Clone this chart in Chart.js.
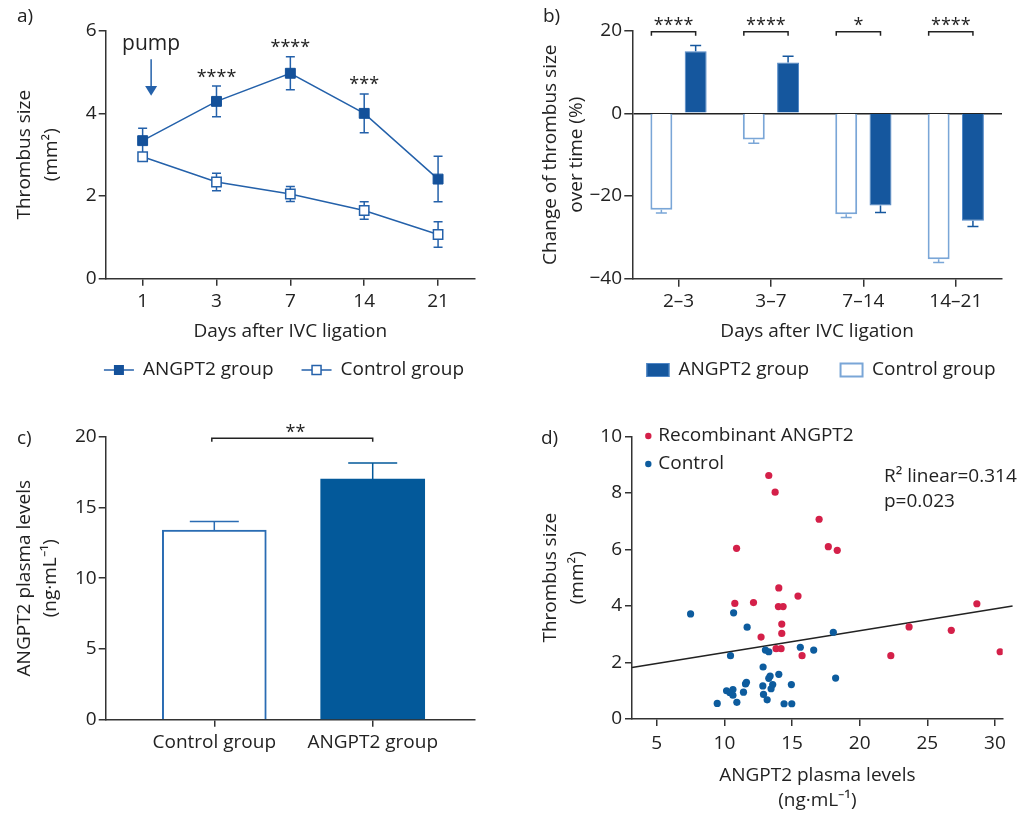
<!DOCTYPE html>
<html>
<head>
<meta charset="utf-8">
<script src="https://cdn.jsdelivr.net/npm/chart.js@4.4.0/dist/chart.umd.min.js"></script>
<style>
  body { margin: 0; background: #fff; }
  #wrap { position: relative; width: 1032px; height: 813px; font-family: 'Open Sans', sans-serif; color: #222; }
  .panel { position: absolute; }
  .tag { position: absolute; font-size: 19px; line-height: 19px; color: #222; }
</style>
</head>
<body>
<div id="wrap">
  <div class="panel" style="left:0;top:0;width:516px;height:400px"><canvas id="chartA"></canvas></div>
  <div class="panel" style="left:516px;top:0;width:516px;height:400px"><canvas id="chartB"></canvas></div>
  <div class="panel" style="left:0;top:410px;width:516px;height:400px"><canvas id="chartC"></canvas></div>
  <div class="panel" style="left:516px;top:410px;width:516px;height:403px"><canvas id="chartD"></canvas></div>
  <div class="tag" style="left:17px;top:6px">a)</div>
  <div class="tag" style="left:543px;top:6px">b)</div>
  <div class="tag" style="left:17px;top:428px">c)</div>
  <div class="tag" style="left:541px;top:428px">d)</div>
</div>
<script>
// a) thrombus size after IVC ligation
const daysA = ['1', '3', '7', '14', '21'];
const angptA = [3.34, 4.29, 4.97, 4.00, 2.41];
const angptAErr = [0.30, 0.37, 0.40, 0.47, 0.55];
const controlA = [2.95, 2.34, 2.05, 1.65, 1.07];
const controlAErr = [0.10, 0.21, 0.18, 0.21, 0.31];
const sigA = ['', '****', '****', '***', ''];

// b) change of thrombus size between time points
const intervalsB = ['2–3', '3–7', '7–14', '14–21'];
const controlB = [-23.3, -6.3, -24.4, -35.3];
const controlBErr = [0.8, 0.9, 0.8, 0.8];
const angptB = [15.0, 12.3, -22.3, -26.0];
const angptBErr = [1.4, 1.5, 1.7, 1.4];
const sigB = ['****', '****', '*', '****'];

// c) plasma levels
const groupsC = ['Control group', 'ANGPT2 group'];
const plasmaC = [13.4, 17.0];
const plasmaCErr = [0.6, 1.15];
const sigC = '**';

// d) thrombus size vs plasma level
const recombX = [13.28, 13.75, 17.0, 10.9, 17.68, 18.34, 14.02, 15.44, 10.77, 12.15, 13.99, 14.34,
  28.66, 14.24, 14.24, 23.65, 12.71, 26.77, 13.82, 14.19, 15.74, 22.3, 30.38];
const recombY = [8.62, 8.03, 7.07, 6.04, 6.10, 5.97, 4.64, 4.35, 4.09, 4.12, 3.98, 3.98,
  4.08, 3.36, 3.03, 3.26, 2.90, 3.14, 2.49, 2.49, 2.24, 2.24, 2.38];
const controlX = [7.5, 10.68, 11.68, 10.45, 18.05, 15.61, 16.6, 13.03, 13.28, 12.86, 14.02, 13.38,
  13.28, 18.22, 11.63, 11.56, 12.84, 13.57, 13.45, 14.95, 10.16, 10.63, 10.41, 10.63, 11.41, 12.89,
  13.16, 9.47, 10.92, 14.41, 14.98];
const controlY = [3.72, 3.76, 3.25, 2.24, 3.07, 2.54, 2.44, 2.44, 2.38, 1.84, 1.58, 1.52,
  1.44, 1.45, 1.30, 1.24, 1.17, 1.22, 1.07, 1.22, 1.00, 1.04, 0.93, 0.84, 0.95, 0.87,
  0.68, 0.55, 0.59, 0.54, 0.54];
const fitX = [3.17, 31.3];
const fitY = [1.82, 4.0];
const fitText = ['R\u00b2 linear=0.314', 'p=0.023'];

const FONT = "'Open Sans', sans-serif";
const FS = 19;
const lineBlue = '#2461aa', markBlue = '#14519a';
const barBlue = '#15579e', paleBlue = '#7aa6d7';
const ctrlBlue = '#2a6cb3', deepBlue = '#03599a';
const dotRed = '#d42049', dotBlue = '#0d5c9e';
const axisCol = '#333';

Chart.defaults.font.family = FONT;
Chart.defaults.font.size = FS;
Chart.defaults.color = '#222';
Chart.defaults.animation = false;

function drawErrorBars(chart) {
  const ctx = chart.ctx;
  chart.data.datasets.forEach((ds, i) => {
    if (!ds.errors) return;
    const meta = chart.getDatasetMeta(i);
    const ys = chart.scales[meta.yAxisID];
    ctx.save();
    ctx.lineWidth = 1.5;
    meta.data.forEach((el, j) => {
      const raw = ds.data[j];
      const v = typeof raw === 'object' ? raw.y : raw;
      const e = ds.errors[j];
      const ends = ds.errorMode === 'out' ? [v, v + (v < 0 ? -e : e)] : [v - e, v + e];
      const p0 = ys.getPixelForValue(ends[0]), p1 = ys.getPixelForValue(ends[1]);
      const half = ds.errorCap;
      ctx.strokeStyle = Array.isArray(ds.errorColor) ? ds.errorColor[j] : ds.errorColor;
      ctx.beginPath();
      ctx.moveTo(el.x, p0); ctx.lineTo(el.x, p1);
      ctx.moveTo(el.x - half, p1); ctx.lineTo(el.x + half, p1);
      if (ds.errorMode !== 'out') { ctx.moveTo(el.x - half, p0); ctx.lineTo(el.x + half, p0); }
      ctx.stroke();
    });
    ctx.restore();
  });
}

const errorBars = {
  id: 'errorBars',
  beforeDatasetsDraw(chart, args, opts) { if (opts.behind) drawErrorBars(chart); },
  afterDatasetsDraw(chart, args, opts) { if (!opts.behind) drawErrorBars(chart); }
};

function stars(ctx, text, x, yCenter) {
  ctx.font = '18px ' + FONT;
  ctx.textAlign = 'center';
  ctx.textBaseline = 'alphabetic';
  ctx.fillText(text, x, yCenter + 10.5);
}

function bracket(ctx, x1, x2, y, drop) {
  ctx.beginPath();
  ctx.moveTo(x1, y + drop); ctx.lineTo(x1, y); ctx.lineTo(x2, y); ctx.lineTo(x2, y + drop);
  ctx.stroke();
}

function fixedWidth(w) { return scale => { scale.width = w; }; }
function fixedHeight(h) { return scale => { scale.height = h; }; }

function axisGrid(len) {
  return { display: true, drawOnChartArea: false, drawTicks: true, tickLength: len, color: axisCol, lineWidth: 1.5, offset: false };
}
const axisBorder = { display: true, color: axisCol, width: 1.5 };

// ---------- a) ----------
const annotateA = {
  id: 'annotateA',
  afterDraw(chart) {
    const { ctx, chartArea, scales: { x, y } } = chart;
    ctx.save();
    ctx.fillStyle = '#222';
    sigA.forEach((s, i) => {
      if (s) stars(ctx, s, x.getPixelForValue(i), y.getPixelForValue(angptA[i] + angptAErr[i]) - 14);
    });
    // pump arrow
    const ax = x.getPixelForValue(0) + 8.5;
    const t = chartArea.top;
    ctx.font = '21px ' + FONT;
    ctx.textAlign = 'center';
    ctx.fillText('pump', ax, t + 19.5);
    ctx.strokeStyle = lineBlue; ctx.fillStyle = lineBlue; ctx.lineWidth = 1.5;
    ctx.beginPath(); ctx.moveTo(ax, t + 28.6); ctx.lineTo(ax, t + 56); ctx.stroke();
    ctx.beginPath(); ctx.moveTo(ax - 6, t + 55.3); ctx.lineTo(ax + 6, t + 55.3); ctx.lineTo(ax, t + 65); ctx.closePath(); ctx.fill();
    // legend
    ctx.font = FS + 'px ' + FONT;
    ctx.textBaseline = 'middle'; ctx.textAlign = 'left';
    const names = chart.data.datasets.map(d => d.label);
    const widths = names.map(n => ctx.measureText(n).width);
    const total = 30 + 9 + widths[0] + 28 + 30 + 9 + widths[1];
    let lx = 284 - total / 2;
    const ly = 370;
    names.forEach((n, i) => {
      ctx.strokeStyle = lineBlue; ctx.lineWidth = 1.5;
      ctx.beginPath(); ctx.moveTo(lx, ly); ctx.lineTo(lx + 30, ly); ctx.stroke();
      if (i === 0) { ctx.fillStyle = markBlue; ctx.fillRect(lx + 10, ly - 5, 10, 10); }
      else { ctx.fillStyle = '#fff'; ctx.fillRect(lx + 10.5, ly - 4.5, 9, 9); ctx.strokeRect(lx + 10.5, ly - 4.5, 9, 9); }
      ctx.fillStyle = '#222';
      ctx.fillText(n, lx + 39, ly);
      lx += 39 + widths[i] + 28;
    });
    ctx.restore();
  }
};

new Chart(document.getElementById('chartA'), {
  type: 'line',
  data: {
    labels: daysA,
    datasets: [{
      label: 'ANGPT2 group', data: angptA, errors: angptAErr, errorColor: lineBlue, errorCap: 4.5,
      borderColor: lineBlue, borderWidth: 1.5, tension: 0,
      pointStyle: 'rect', pointRadius: 7, pointBackgroundColor: markBlue, pointBorderColor: markBlue, pointBorderWidth: 1
    }, {
      label: 'Control group', data: controlA, errors: controlAErr, errorColor: lineBlue, errorCap: 4.5,
      borderColor: lineBlue, borderWidth: 1.5, tension: 0,
      pointStyle: 'rect', pointRadius: 6.6, pointBackgroundColor: '#fff', pointBorderColor: lineBlue, pointBorderWidth: 1.5
    }]
  },
  options: {
    responsive: true, maintainAspectRatio: false, events: [],
    layout: { padding: { left: 0, right: 41, top: 30.7, bottom: 57.3 } },
    plugins: { legend: { display: false }, tooltip: { enabled: false }, errorBars: { behind: true } },
    scales: {
      x: {
        offset: true, afterFit: fixedHeight(64),
        grid: axisGrid(7), border: axisBorder,
        ticks: { padding: 4.6, color: '#222' },
        title: { display: true, text: 'Days after IVC ligation', padding: { top: 0, bottom: 0 }, font: { size: FS, lineHeight: 1.2 } }
      },
      y: {
        min: 0, max: 6, afterFit: fixedWidth(105.7),
        grid: axisGrid(7), border: axisBorder,
        ticks: { stepSize: 2, padding: 2, color: '#222' },
        title: { display: true, text: ['Thrombus size', '(mm\u00b2)'], padding: { top: 11, bottom: 0 }, font: { size: FS, lineHeight: 1.42 } }
      }
    }
  },
  plugins: [errorBars, annotateA]
});

// ---------- b) ----------
const annotateB = {
  id: 'annotateB',
  afterDraw(chart) {
    const { ctx, scales: { y } } = chart;
    const ctrl = chart.getDatasetMeta(0).data, ang = chart.getDatasetMeta(1).data;
    const yb = y.getPixelForValue(20) + 1;
    ctx.save();
    ctx.strokeStyle = '#222'; ctx.fillStyle = '#222'; ctx.lineWidth = 1.5;
    sigB.forEach((s, i) => {
      const x1 = ctrl[i].x - ctrl[i].width / 2 + 1;
      const x2 = ang[i].x;
      bracket(ctx, x1, x2, yb, 4);
      stars(ctx, s, (x1 + x2) / 2, yb - 11.7);
    });
    // legend: filled ANGPT2 first, then open control
    ctx.font = FS + 'px ' + FONT;
    ctx.textBaseline = 'middle'; ctx.textAlign = 'left';
    const order = [1, 0];
    const names = order.map(k => chart.data.datasets[k].label);
    const widths = names.map(n => ctx.measureText(n).width);
    const total = 23 + 9 + widths[0] + 31 + 23 + 9 + widths[1];
    let lx = 305 - total / 2;
    const ly = 370;
    order.forEach((k, i) => {
      const ds = chart.data.datasets[k];
      ctx.fillStyle = ds.backgroundColor;
      ctx.fillRect(lx, ly - 7, 23, 14);
      ctx.strokeStyle = ds.borderColor; ctx.lineWidth = k === 0 ? 2 : 1;
      ctx.strokeRect(lx + 0.5, ly - 6.5, 22, 13);
      ctx.fillStyle = '#222';
      ctx.fillText(names[i], lx + 32, ly);
      lx += 32 + widths[i] + 31;
    });
    ctx.restore();
  }
};

new Chart(document.getElementById('chartB'), {
  type: 'bar',
  data: {
    labels: intervalsB,
    datasets: [{
      label: 'Control group', data: controlB, errors: controlBErr, errorMode: 'out', errorColor: paleBlue, errorCap: 5.5,
      backgroundColor: '#fff', borderColor: paleBlue, borderWidth: 2,
      categoryPercentage: 0.742, barPercentage: 0.64
    }, {
      label: 'ANGPT2 group', data: angptB, errors: angptBErr, errorMode: 'out', errorColor: barBlue, errorCap: 5.5,
      backgroundColor: barBlue, borderColor: '#4f86c6', borderWidth: 1,
      categoryPercentage: 0.742, barPercentage: 0.64
    }]
  },
  options: {
    responsive: true, maintainAspectRatio: false, events: [],
    layout: { padding: { left: 0, right: 30, top: 30.7, bottom: 57.3 } },
    plugins: { legend: { display: false }, tooltip: { enabled: false } },
    scales: {
      x: {
        afterFit: fixedHeight(64),
        grid: axisGrid(8), border: axisBorder,
        ticks: { padding: 3.6, color: '#222' },
        title: { display: true, text: 'Days after IVC ligation', padding: { top: 0, bottom: 0 }, font: { size: FS, lineHeight: 1.2 } }
      },
      y: {
        min: -40, max: 20, afterFit: fixedWidth(116.3),
        grid: {
          display: true, drawOnChartArea: true, drawTicks: true, tickLength: 8, lineWidth: 1.5,
          color: c => (c.tick && c.tick.value === 0 ? '#222' : 'rgba(0,0,0,0)'), tickColor: axisCol
        },
        border: axisBorder,
        ticks: { stepSize: 20, padding: 2.3, color: '#222', callback: v => String(v).replace('-', '\u2212') },
        title: { display: true, text: ['Change of thrombus size', 'over time (%)'], padding: { top: 21, bottom: 0 }, font: { size: FS, lineHeight: 1.4 } }
      }
    }
  },
  plugins: [errorBars, annotateB]
});

// ---------- c) ----------
const annotateC = {
  id: 'annotateC',
  afterDraw(chart) {
    const { ctx, scales: { y } } = chart;
    const bars = chart.getDatasetMeta(0).data;
    const yb = y.getPixelForValue(20) + 1.6;
    ctx.save();
    ctx.strokeStyle = '#222'; ctx.fillStyle = '#222'; ctx.lineWidth = 1.5;
    bracket(ctx, bars[0].x - 2.5, bars[1].x, yb, 3.5);
    stars(ctx, sigC, (bars[0].x + bars[1].x) / 2 + 2, yb - 11);
    ctx.restore();
  }
};

new Chart(document.getElementById('chartC'), {
  type: 'bar',
  data: {
    datasets: [{
      label: 'ANGPT2 plasma levels',
      data: plasmaC.map((v, i) => ({ x: i, y: v })),
      errors: plasmaCErr, errorMode: 'out', errorColor: [ctrlBlue, deepBlue], errorCap: 24.5,
      backgroundColor: ['#fff', deepBlue], borderColor: [ctrlBlue, deepBlue], borderWidth: [2, 0],
      barThickness: 104
    }]
  },
  options: {
    responsive: true, maintainAspectRatio: false, events: [],
    layout: { padding: { left: 0, right: 41, top: 26.7, bottom: 50.3 } },
    plugins: { legend: { display: false }, tooltip: { enabled: false } },
    scales: {
      x: {
        type: 'linear', offset: false, min: -0.6856, max: 1.6458, afterFit: fixedHeight(40),
        afterBuildTicks: scale => { scale.ticks = groupsC.map((g, i) => ({ value: i })); },
        grid: axisGrid(7), border: axisBorder,
        ticks: { padding: 4.2, color: '#222', callback: v => groupsC[v] }
      },
      y: {
        min: 0, max: 20, afterFit: fixedWidth(105.7),
        grid: axisGrid(7), border: axisBorder,
        ticks: { stepSize: 5, padding: 2, color: '#222' },
        title: { display: true, text: ['ANGPT2 plasma levels', '(ng\u00b7mL\u207b\u00b9)'], padding: { top: 11, bottom: 0 }, font: { size: FS, lineHeight: 1.38 } }
      }
    }
  },
  plugins: [errorBars, annotateC]
});

// ---------- d) ----------
const annotateD = {
  id: 'annotateD',
  afterDraw(chart) {
    const { ctx, chartArea } = chart;
    ctx.save();
    ctx.font = FS + 'px ' + FONT;
    ctx.textBaseline = 'middle'; ctx.textAlign = 'left';
    const items = [[chart.data.datasets[0].label, dotRed], [chart.data.datasets[1].label, dotBlue]];
    items.forEach(([name, col], i) => {
      const cy = chartArea.top - 0.5 + i * 28;
      ctx.fillStyle = col;
      ctx.beginPath(); ctx.arc(chartArea.left + 16.3, cy, 3.2, 0, Math.PI * 2); ctx.fill();
      ctx.fillStyle = '#222';
      ctx.fillText(name, chartArea.left + 26.3, cy);
    });
    fitText.forEach((t, i) => ctx.fillText(t, chartArea.left + 252, chartArea.top + 40.5 + i * 24.7));
    ctx.restore();
  }
};

new Chart(document.getElementById('chartD'), {
  type: 'scatter',
  data: {
    datasets: [{
      label: 'Recombinant ANGPT2',
      data: recombX.map((x, i) => ({ x, y: recombY[i] })),
      backgroundColor: dotRed, borderWidth: 0, pointRadius: 3.6
    }, {
      label: 'Control',
      data: controlX.map((x, i) => ({ x, y: controlY[i] })),
      backgroundColor: dotBlue, borderWidth: 0, pointRadius: 3.6
    }, {
      label: 'Linear fit',
      data: fitX.map((x, i) => ({ x, y: fitY[i] })),
      showLine: true, borderColor: '#222', borderWidth: 1.5, pointRadius: 0, clip: false
    }]
  },
  options: {
    responsive: true, maintainAspectRatio: false, events: [],
    layout: { padding: { left: 0, right: 29.3, top: 26.5, bottom: 0 } },
    plugins: { legend: { display: false }, tooltip: { enabled: false } },
    scales: {
      x: {
        min: 3.17, max: 30.57, afterFit: fixedHeight(94),
        grid: axisGrid(7), border: axisBorder,
        ticks: { stepSize: 5, includeBounds: false, padding: 5.9, color: '#222' },
        title: { display: true, text: ['ANGPT2 plasma levels', '(ng\u00b7mL\u207b\u00b9)'], padding: { top: 0, bottom: 0 }, font: { size: FS, lineHeight: 1.32 } }
      },
      y: {
        min: 0, max: 10, afterFit: fixedWidth(116),
        grid: axisGrid(7), border: axisBorder,
        ticks: { stepSize: 2, padding: 3, color: '#222' },
        title: { display: true, text: ['Thrombus size', '(mm\u00b2)'], padding: { top: 21, bottom: 0 }, font: { size: FS, lineHeight: 1.42 } }
      }
    }
  },
  plugins: [annotateD]
});
</script>
</body>
</html>
